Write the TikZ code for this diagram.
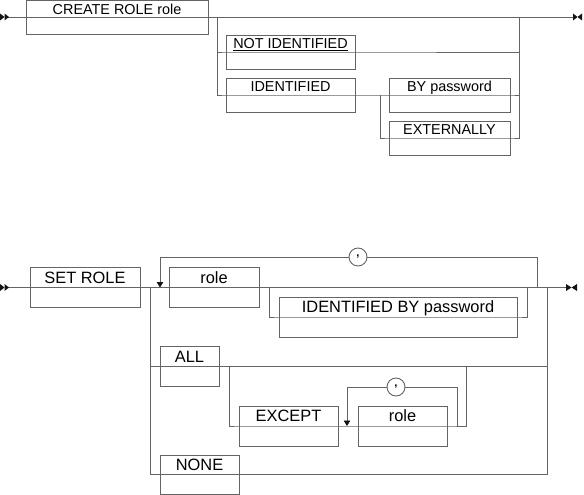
\documentclass[tikz,border=0pt]{standalone}
\usepackage{fontspec}
\setmainfont{Liberation Sans}
\usetikzlibrary{arrows.meta}
\definecolor{linec}{RGB}{100,100,100}
\definecolor{markc}{RGB}{20,20,20}
\tikzset{
  rrline/.style={draw=linec, line width=0.9pt},
  rrbx/.style={draw=linec, line width=0.9pt, rectangle, inner sep=0pt},
  rrtxt/.style={anchor=base, inner sep=0pt, text=black},
  commacirc/.style={draw=linec, line width=0.9pt, circle, minimum size=18pt, inner sep=0pt, font=\fontsize{11}{11}\selectfont\bfseries},
  looparrow/.style={rrline, -{Triangle[width=6.5pt,length=5.5pt,color=markc]}},
  endmark/.style={fill=markc, draw=none}
}
\newcommand\rrbox[7]{%
  \node[rrbx, minimum width={#4-#2}, minimum height={#5-#3}] (#1) at ({(#2+#4)/2},{(#3+#5)/2}) {};
  \node[rrtxt, font=\fontsize{#6}{#6}\selectfont] (#1-t) at ({(#2+#4)/2},{#3+(#5-#3)/4+0.358*#6}) {#7};
}
\begin{document}
\begin{tikzpicture}[x=1pt,y=-1pt]
\useasboundingbox (0,0) rectangle (584,495);

% ---------------- top diagram ----------------
\rrbox{create}{26}{0.5}{208}{34}{14.4}{CREATE ROLE role}
\rrbox{notid}{226}{35}{355}{69}{14.4}{\underline{NOT IDENTIFIED}}
\rrbox{ident}{226}{78}{355}{112}{14.4}{IDENTIFIED}
\rrbox{bypw}{389}{78}{510}{112}{14.4}{BY password}
\rrbox{ext}{389}{121}{510}{155}{14.4}{EXTERNALLY}

\coordinate (t-start) at (8,17);
\coordinate (t-end) at (574,17);
\coordinate (t-bl) at (217,17);
\coordinate (t-br) at (519,17);
\coordinate (t-ij) at (380,95);

\draw[rrline] (t-start) -- (t-end);
\draw[rrline] (t-bl) |- (notid.west) -- (notid.east) -| (t-br);
\draw[rrline] (t-bl) |- (ident.west) -- (bypw.east) -| (t-br);
\draw[rrline] (t-ij) |- (ext.west) -- (ext.east) -| (t-br);

\fill[endmark] (0,13.5) -- (4.5,17) -- (0,20.5) -- cycle;
\fill[endmark] (4.5,13.5) -- (9,17) -- (4.5,20.5) -- cycle;
\fill[endmark] (573,13.5) -- (577.5,17) -- (573,20.5) -- cycle;
\fill[endmark] (582,13.5) -- (577.5,17) -- (582,20.5) -- cycle;

% ---------------- bottom diagram ----------------
\rrbox{setrole}{30}{267.5}{140}{307.5}{16.4}{SET ROLE}
\rrbox{role1}{169}{267.5}{259}{307.5}{16.4}{role}
\rrbox{idbypw}{279}{297}{517}{337}{16.4}{IDENTIFIED BY password}
\rrbox{all}{160}{346.5}{219}{386.5}{16.4}{ALL}
\rrbox{except}{239}{406}{338}{446}{16.4}{EXCEPT}
\rrbox{role2}{358}{406}{447}{446}{16.4}{role}
\rrbox{none}{160}{455}{239}{494.5}{16.4}{NONE}

\node[commacirc] (comma1) at (358,257) {\raisebox{2pt}{,}};
\node[commacirc] (comma2) at (396,387) {\raisebox{2pt}{,}};

\coordinate (b-start) at (8,287.5);
\coordinate (b-end) at (566,287.5);
\coordinate (b-l) at (150,287.5);
\coordinate (b-r) at (547,287.5);
\coordinate (lp-l) at (160,287.5);
\coordinate (lp-r) at (537,287.5);
\coordinate (op-l) at (269,287.5);
\coordinate (op-r) at (527,287.5);
\coordinate (ex-l) at (229,366.5);
\coordinate (ex-r) at (466,366.5);
\coordinate (l2-l) at (347,426);
\coordinate (l2-r) at (457,426);

\draw[rrline] (b-start) -- (b-end);
\draw[looparrow] (lp-r) |- (comma1.east) (comma1.west) -| (lp-l);
\draw[rrline] (op-l) |- (idbypw.west) -- (idbypw.east) -| (op-r);
\draw[rrline] (b-l) |- (all.west) -- (all.east) -| (b-r);
\draw[rrline] (ex-l) |- (except.west) -- (role2.east) -| (ex-r);
\draw[looparrow] (l2-r) |- (comma2.east) (comma2.west) -| (l2-l);
\draw[rrline] (b-l) |- (none.west) -- (none.east) -| (b-r);

\fill[endmark] (0,284) -- (4.5,287.5) -- (0,291) -- cycle;
\fill[endmark] (4.5,284) -- (9,287.5) -- (4.5,291) -- cycle;
\fill[endmark] (566,284) -- (571.5,287.5) -- (566,291) -- cycle;
\fill[endmark] (577,284) -- (571.5,287.5) -- (577,291) -- cycle;
\end{tikzpicture}
\end{document}
